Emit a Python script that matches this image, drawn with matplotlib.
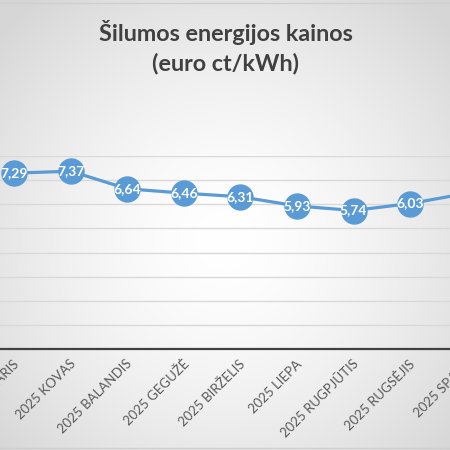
import numpy as np
import matplotlib
matplotlib.use("Agg")
import matplotlib.pyplot as plt
from matplotlib.transforms import ScaledTranslation
from matplotlib.lines import Line2D

# ---- data ----
months = ["2025 VASARIS", "2025 KOVAS", "2025 BALANDIS", "2025 GEGUŽĖ", "2025 BIRŽELIS",
          "2025 LIEPA", "2025 RUGPJŪTIS", "2025 RUGSĖJIS", "2025 SPALIS"]
prices = [7.29, 7.37, 6.64, 6.46, 6.31, 5.93, 5.74, 6.03, 6.45]
labels = ["7,29", "7,37", "6,64", "6,46", "6,31", "5,93", "5,74", "6,03", "6,45"]
title_text = "Šilumos energijos kainos\n(euro ct/kWh)"

BLUE = "#5B9BD5"
FONT = ["Lato", "DejaVu Sans"]

fig = plt.figure(figsize=(4.5, 4.5), dpi=100)

# background radial gradient
bg = fig.add_axes([0, 0, 1, 1], zorder=-10)
yy, xx = np.mgrid[0:450, 0:450]
cx, cy = 225, 240
r = np.sqrt((xx - cx) ** 2 + (yy - cy) ** 2) / np.sqrt(cx ** 2 + (450 - cy) ** 2)
r = np.clip(r, 0, 1)
val = 1.0 - 0.16 * r ** 1.6
img = np.dstack([val, val, val])
bg.imshow(img, extent=[0, 1, 0, 1], aspect="auto", origin="upper")
bg.set_axis_off()

# borders
fig.add_artist(Line2D([0, 1], [1 - 2.5 / 450, 1 - 2.5 / 450], color="#cfcfcf", lw=1.0))
fig.add_artist(Line2D([0, 1], [2.0 / 450, 2.0 / 450], color="#cfcfcf", lw=1.0))

# main axes
y0 = (450 - 349) / 450
y1 = (450 - 156) / 450
ax = fig.add_axes([0, y0, 1, y1 - y0])
ax.patch.set_alpha(0)
x = np.arange(len(months))
ax.set_xticks([])
ax.set_yticks(np.arange(0, 9, 1))
ax.set_xlim(-14.2 / 56.55, (450 - 14.2) / 56.55)
ax.set_ylim(0, 8)
ax.yaxis.grid(True, color="#d9d9d9", lw=1.0)
ax.set_axisbelow(True)
ax.tick_params(axis="y", left=False, labelleft=False)
for s in ["left", "right", "top"]:
    ax.spines[s].set_visible(False)
ax.spines["bottom"].set_color("#404040")
ax.spines["bottom"].set_linewidth(1.6)

ax.plot(x, prices, color=BLUE, lw=2.3, marker="o", ms=18, mfc=BLUE, mec=BLUE,
        solid_joinstyle="round", zorder=3, clip_on=False)
for xi, yi, lab in zip(x, prices, labels):
    ax.text(xi, yi, lab, color="white", ha="center", va="center", fontsize=10,
            fontweight="bold", family=FONT, zorder=4, clip_on=False)

# category labels (drawn as text so the cropped last one still shows)
off = ScaledTranslation(3 / 100, -13 / 100, fig.dpi_scale_trans)
for xi, m in zip(x, months):
    ax.text(xi, 0, m, rotation=45, ha="right", va="center", rotation_mode="anchor",
            fontsize=9.5, color="#595959", family=FONT, clip_on=False,
            transform=ax.transData + off)

fig.text(0.502, 1 - 47.5 / 450, title_text, ha="center", va="center", fontsize=16.8,
         fontweight="bold", color="#404040", family=FONT, linespacing=1.42)

fig.savefig("out.png", dpi=100)
